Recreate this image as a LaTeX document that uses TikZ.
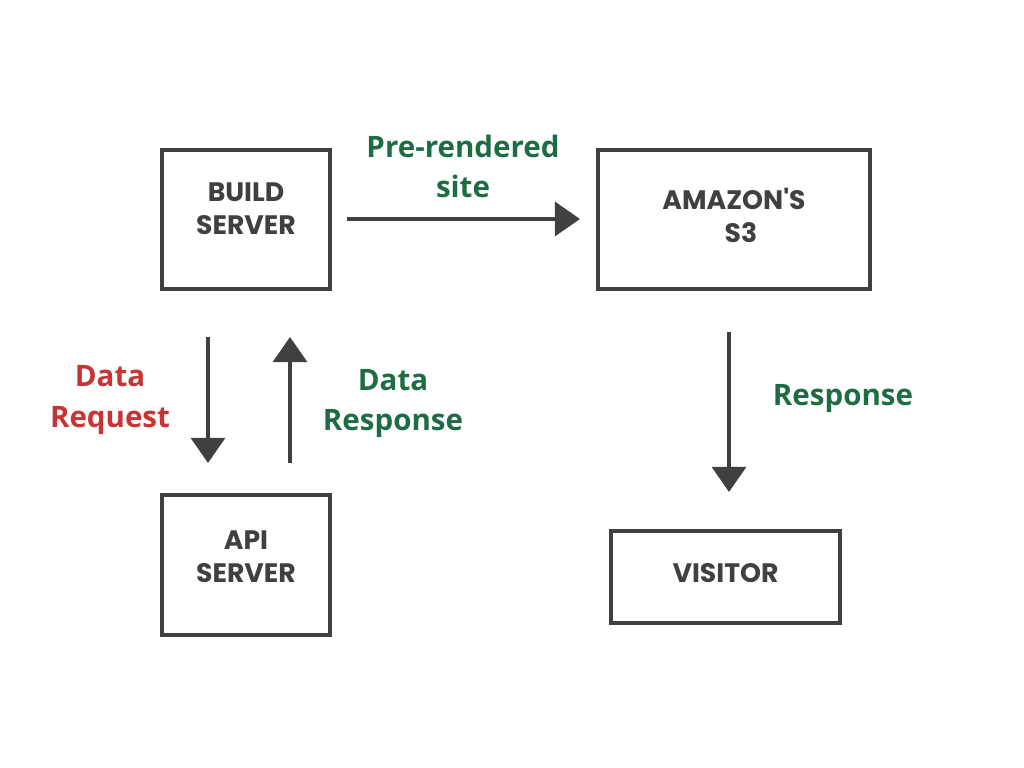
\documentclass[tikz,border=0pt]{standalone}
\usepackage{fontspec}
\usepackage{xcolor}
\usepackage{tikz}
\usetikzlibrary{arrows.meta,positioning}
\newfontfamily\boxfont{Poppins}
\newfontfamily\labfont{Open Sans}
\definecolor{boxgray}{RGB}{64,64,64}
\definecolor{labgreen}{RGB}{30,108,68}
\definecolor{labred}{RGB}{200,52,52}

\begin{document}
\begin{tikzpicture}[
  box/.style={draw=boxgray, line width=2.8pt, rectangle},
  boxtext/.style={align=center, text=boxgray,
    font=\boxfont\bfseries\fontsize{19}{23.5}\selectfont},
  flow/.style={draw=boxgray, line width=2.8pt,
    -{Triangle[width=0.85cm,length=0.63cm]}},
  lab/.style={align=center, font=\labfont\bfseries\fontsize{21}{28.5}\selectfont}
]
\useasboundingbox (0,0) rectangle (25.6,19.2);

\node[box, minimum width=4.2cm, minimum height=3.475cm] (build) at (6.15,13.7125) {};
\node[box, minimum width=6.8cm, minimum height=3.475cm] (s3) at (18.35,13.7125) {};
\node[box, minimum width=4.2cm, minimum height=3.5cm] (api) at (6.15,5.075) {};
\node[box, minimum width=5.725cm, minimum height=2.3cm] (visitor) at (18.1375,4.775) {};

% box texts sit a little above the box centres
\node[boxtext] (build-t) at ([yshift=0.28cm]build.center) {BUILD\\SERVER};
\node[boxtext] (s3-t) at ([yshift=0.1cm]s3.center) {AMAZON'S\\\hspace*{0.35cm}S3};
\node[boxtext] (api-t) at ([yshift=0.2cm]api.center) {API\\SERVER};
\node[boxtext] (visitor-t) at ([yshift=0.1cm]visitor.center) {VISITOR};

% arrow ends (the arrows stop short of the boxes)
\coordinate (pre-a) at (8.675,13.725);
\coordinate (pre-b) at (14.5,13.725);
\coordinate (req-a) at (5.2,10.775);
\coordinate (req-b) at (5.2,7.625);
\coordinate (res-a) at (7.25,7.625);
\coordinate (res-b) at (7.25,10.775);
\coordinate (vis-a) at (18.225,10.9);
\coordinate (vis-b) at (18.225,6.9);

\draw[flow] (pre-a) -- (pre-b);
\draw[flow] (req-a) -- (req-b);
\draw[flow] (res-a) -- (res-b);
\draw[flow] (vis-a) -- (vis-b);

\node[lab, text=labgreen] (prelab) at (11.575,15.05) {Pre-rendered\\site};
\node[lab, text=labred] (reqlab) at (2.75,9.2) {Data\\Request};
\node[lab, text=labgreen] (reslab) at (9.825,9.12) {Data\\Response};
\node[lab, text=labgreen] (vislab) at (21.075,9.225) {Response};
\end{tikzpicture}
\end{document}
